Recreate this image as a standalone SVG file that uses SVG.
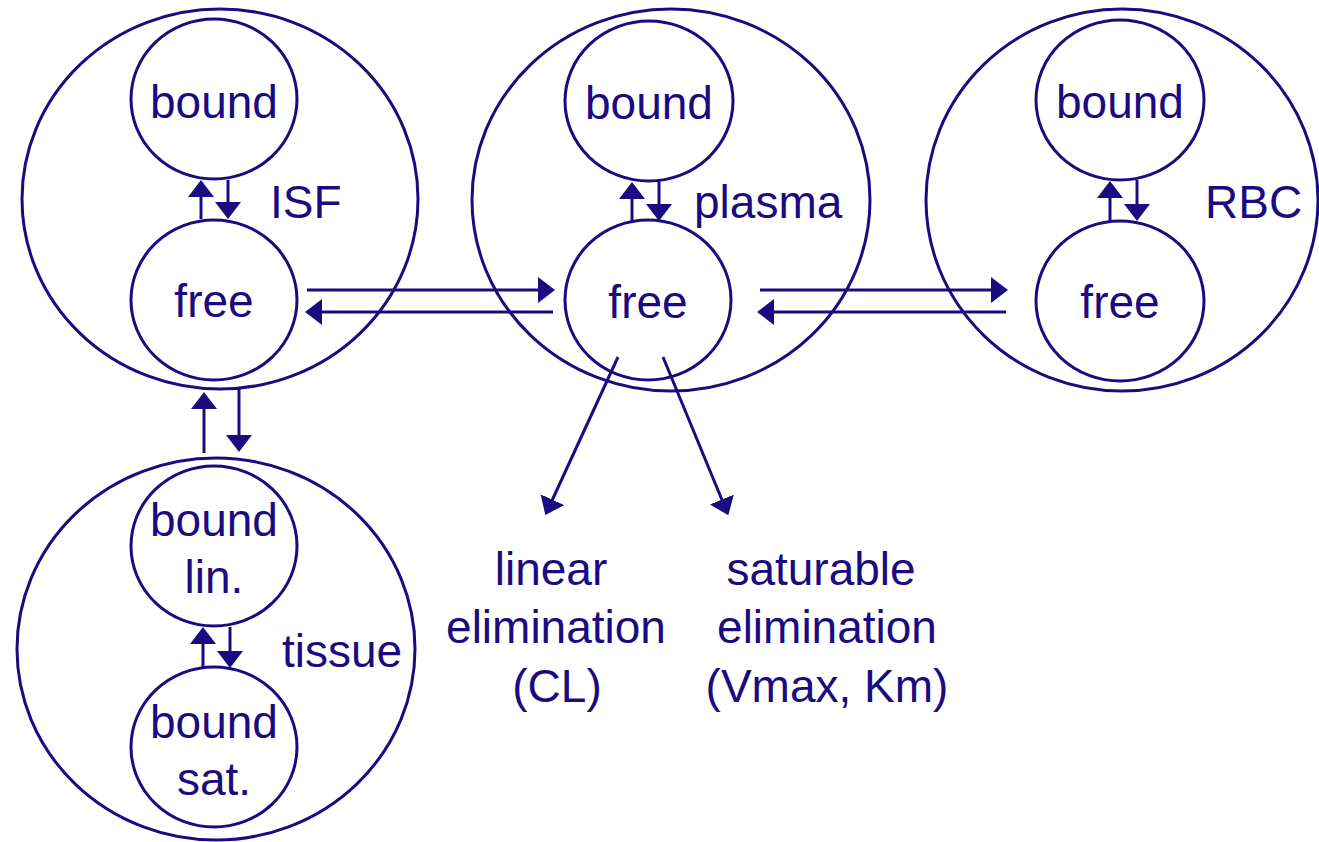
<svg xmlns="http://www.w3.org/2000/svg" width="1319" height="842" viewBox="0 0 1319 842">
  <style>
    .ring { fill: none; stroke: #1a0c80; stroke-width: 3; }
    .lbl { font-family: "Liberation Sans", Arial, sans-serif; font-size: 46px; fill: #1a0c80; text-anchor: middle; }
    .side { font-family: "Liberation Sans", Arial, sans-serif; font-size: 46px; fill: #1a0c80; text-anchor: start; }
    .flow { fill: none; stroke: #1a0c80; stroke-width: 3; marker-end: url(#head); }
  </style>
  <defs>
    <marker id="head" markerUnits="userSpaceOnUse" markerWidth="17" markerHeight="26" viewBox="0 0 17 26" refX="7" refY="13" orient="auto">
      <path d="M0,0 L17,13 L0,26 z" fill="#1a0c80"/>
    </marker>
  </defs>
  <rect width="1319" height="842" fill="#ffffff"/>

  <!-- ISF compartment -->
  <g id="isf">
    <ellipse class="ring" cx="220" cy="199" rx="198" ry="190"/>
    <text class="side" x="270" y="218">ISF</text>
  </g>
  <g id="isf-bound">
    <ellipse class="ring" cx="214" cy="99" rx="83" ry="80"/>
    <text class="lbl" x="214" y="118">bound</text>
  </g>
  <g id="isf-free">
    <ellipse class="ring" cx="214" cy="300" rx="83" ry="80"/>
    <text class="lbl" x="214" y="317">free</text>
  </g>

  <!-- plasma compartment -->
  <g id="plasma">
    <ellipse class="ring" cx="671" cy="200" rx="199" ry="191"/>
    <text class="side" x="694" y="218">plasma</text>
  </g>
  <g id="plasma-bound">
    <ellipse class="ring" cx="649" cy="101" rx="84" ry="80"/>
    <text class="lbl" x="649" y="119">bound</text>
  </g>
  <g id="plasma-free">
    <ellipse class="ring" cx="648" cy="300" rx="83" ry="80"/>
    <text class="lbl" x="648" y="318">free</text>
  </g>

  <!-- RBC compartment -->
  <g id="rbc">
    <ellipse class="ring" cx="1122" cy="200" rx="196" ry="191"/>
    <text class="side" x="1205" y="218">RBC</text>
  </g>
  <g id="rbc-bound">
    <ellipse class="ring" cx="1120" cy="100" rx="84" ry="80"/>
    <text class="lbl" x="1120" y="118">bound</text>
  </g>
  <g id="rbc-free">
    <ellipse class="ring" cx="1120" cy="301" rx="84" ry="80"/>
    <text class="lbl" x="1120" y="318">free</text>
  </g>

  <!-- tissue compartment -->
  <g id="tissue">
    <ellipse class="ring" cx="216" cy="649" rx="199" ry="191"/>
    <text class="side" x="282" y="667">tissue</text>
  </g>
  <g id="tissue-bound-lin">
    <ellipse class="ring" cx="214" cy="546" rx="83" ry="80"/>
    <text class="lbl" x="214" y="536">bound</text>
    <text class="lbl" x="214" y="593">lin.</text>
  </g>
  <g id="tissue-bound-sat">
    <ellipse class="ring" cx="214" cy="747" rx="83" ry="80"/>
    <text class="lbl" x="214" y="738">bound</text>
    <text class="lbl" x="214" y="795">sat.</text>
  </g>

  <!-- elimination outputs -->
  <g id="linear-elimination">
    <text class="lbl" x="551" y="585">linear</text>
    <text class="lbl" x="556" y="643">elimination</text>
    <text class="lbl" x="557" y="702">(CL)</text>
  </g>
  <g id="saturable-elimination">
    <text class="lbl" x="821" y="585">saturable</text>
    <text class="lbl" x="827" y="643">elimination</text>
    <text class="lbl" x="827" y="702">(Vmax, Km)</text>
  </g>

  <!-- connectors -->
  <g id="connectors">
    <!-- binding exchange inside each compartment -->
    <path class="flow" d="M201,219 V190"/>
    <path class="flow" d="M228,180 V209"/>
    <path class="flow" d="M632,221 V192"/>
    <path class="flow" d="M659,181 V211"/>
    <path class="flow" d="M1110,221 V191"/>
    <path class="flow" d="M1137,180 V211"/>
    <path class="flow" d="M203,668 V637"/>
    <path class="flow" d="M230,627 V658"/>

    <!-- ISF <-> tissue -->
    <path class="flow" d="M204,453 V402"/>
    <path class="flow" d="M239,389 V442"/>

    <!-- ISF <-> plasma -->
    <path class="flow" d="M307,290 H545"/>
    <path class="flow" d="M553,312 H315"/>

    <!-- plasma <-> RBC -->
    <path class="flow" d="M760,290 H998"/>
    <path class="flow" d="M1006,312 H767"/>

    <!-- elimination from plasma free -->
    <path class="flow" d="M618,357 L549.5,506"/>
    <path class="flow" d="M663,357 L724.5,506"/>
  </g>
</svg>
